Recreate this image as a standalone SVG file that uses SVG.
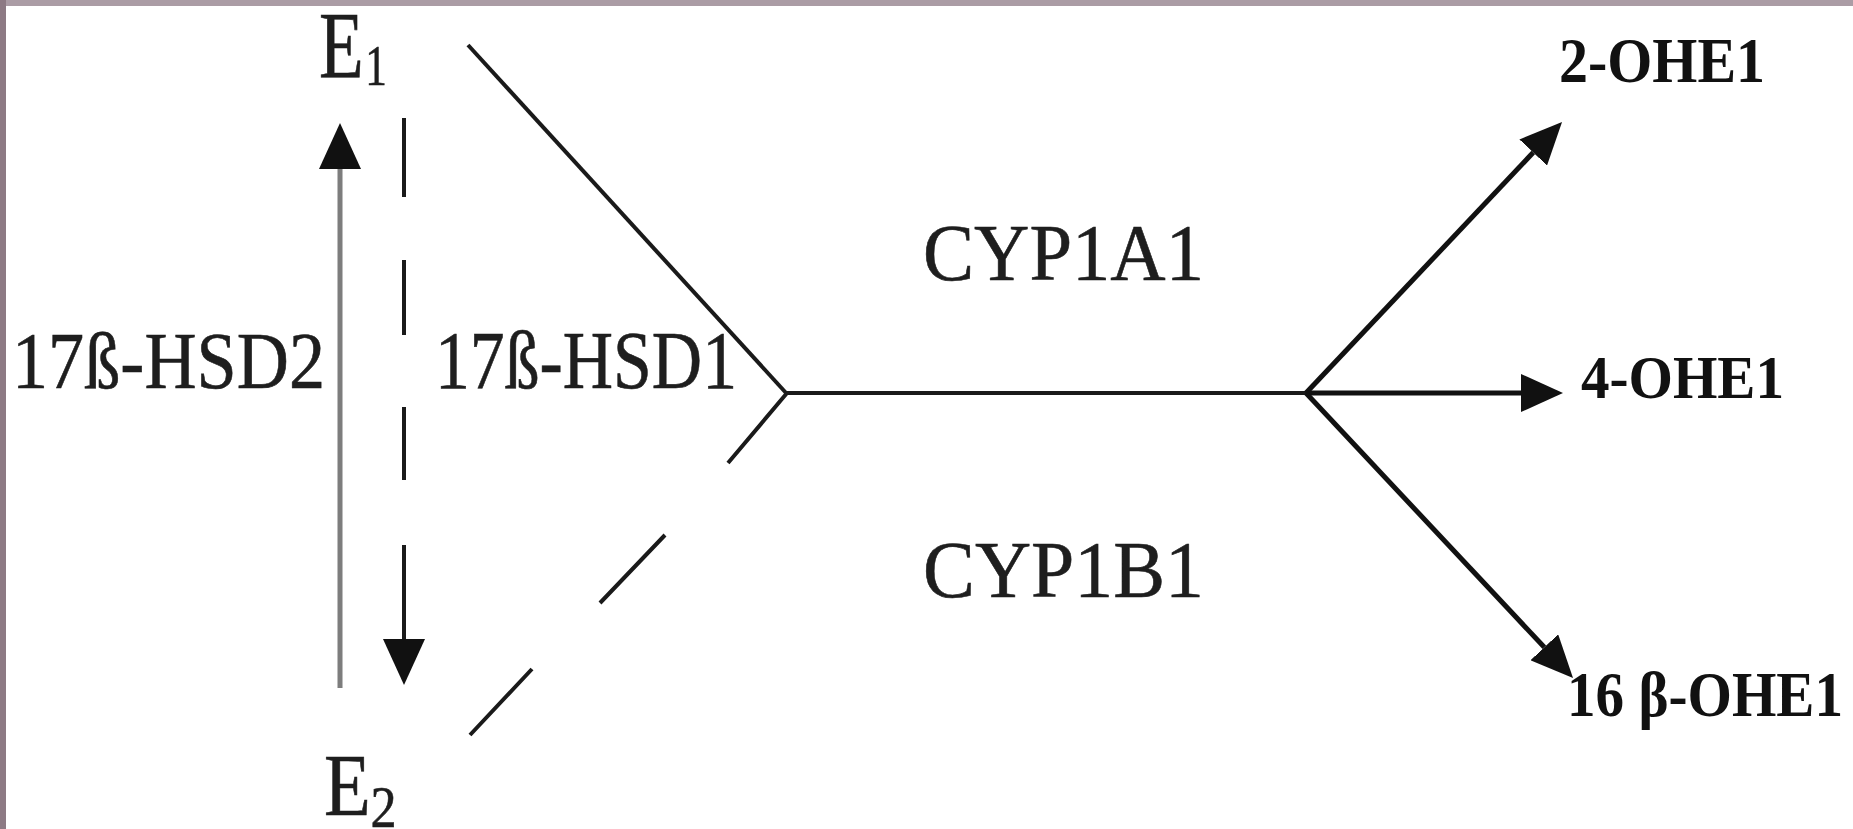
<svg xmlns="http://www.w3.org/2000/svg" width="1853" height="829" viewBox="0 0 1853 829">
  <style>
    .lbl { font-family: "Liberation Serif", "Times New Roman", serif; fill: #1e1e1e; stroke: #1e1e1e; stroke-width: 0.6; }
    .prod { font-family: "Liberation Serif", "Times New Roman", serif; font-weight: bold; fill: #111; }
    .ln { fill: none; stroke: #1a1a1a; stroke-width: 4; }
    .arr { fill: none; stroke: #111; stroke-width: 5; }
  </style>
  <defs>
    <!-- arrowheads: base sits on the line end, tip points along the path -->
    <marker id="headR" markerUnits="userSpaceOnUse" viewBox="0 0 42 38" markerWidth="42" markerHeight="38" refX="0" refY="19" orient="auto">
      <path d="M0,0 L42,19 L0,38 Z" fill="#111"/>
    </marker>
    <marker id="headL" markerUnits="userSpaceOnUse" viewBox="0 0 46 42" markerWidth="46" markerHeight="42" refX="0" refY="21" orient="auto">
      <path d="M0,0 L46,21 L0,42 Z" fill="#111"/>
    </marker>
  </defs>

  <!-- page and frame -->
  <rect x="0" y="0" width="1853" height="829" fill="#ffffff"/>
  <rect x="0" y="0" width="1853" height="6" fill="#ab9ca5"/>
  <rect x="0" y="0" width="6" height="829" fill="#8d7a84"/>

  <g id="connectors">
    <!-- E2 -> E1 (17ß-HSD2) -->
    <path d="M340,688 V169" fill="none" stroke="#7d7d7d" stroke-width="5" marker-end="url(#headL)"/>
    <!-- E1 -> E2 (17ß-HSD1), dashed -->
    <path class="ln" stroke-width="4.5" d="M404,118 V197 M404,260 V335 M404,407 V480 M404,545 V639" marker-end="url(#headL)"/>
    <!-- E1 branch into the CYP axis -->
    <path class="ln" d="M468,45 L787,394"/>
    <!-- E2 branch into the CYP axis, dashed -->
    <path class="ln" d="M787,393 L728,463 M665,535 L600,603 M532,669 L470,735"/>
    <!-- CYP axis -->
    <path class="ln" d="M787,393 H1306"/>
    <!-- hydroxylation products -->
    <path class="arr" d="M1306,393 L1533.2,152.5" marker-end="url(#headR)"/>
    <path class="arr" d="M1306,393 L1521,393" marker-end="url(#headR)"/>
    <path class="arr" d="M1306,393 L1544.3,647.3" marker-end="url(#headR)"/>
  </g>

  <g id="e1">
    <g transform="translate(319,0) scale(0.77,1)">
      <text class="lbl" x="0" y="78" font-size="95">E<tspan x="60" y="85" font-size="56">1</tspan></text>
    </g>
  </g>

  <g id="e2">
    <g transform="translate(324,0) scale(0.87,1)">
      <text class="lbl" x="0" y="815" font-size="88">E<tspan x="53.4" y="827" font-size="60">2</tspan></text>
    </g>
  </g>

  <g id="hsd2">
    <text class="lbl" x="12" y="388" font-size="80" textLength="313" lengthAdjust="spacingAndGlyphs">17ß-HSD2</text>
  </g>

  <g id="hsd1">
    <text class="lbl" x="435" y="388" font-size="82" textLength="302" lengthAdjust="spacingAndGlyphs">17ß-HSD1</text>
  </g>

  <g id="cyp1a1">
    <text class="lbl" x="923" y="280" font-size="80" textLength="281" lengthAdjust="spacingAndGlyphs">CYP1A1</text>
  </g>

  <g id="cyp1b1">
    <text class="lbl" x="923" y="597" font-size="81" textLength="281" lengthAdjust="spacingAndGlyphs">CYP1B1</text>
  </g>

  <g id="ohe2">
    <text class="prod" x="1559" y="82" font-size="63" textLength="206" lengthAdjust="spacingAndGlyphs">2-OHE1</text>
  </g>

  <g id="ohe4">
    <text class="prod" x="1581" y="398" font-size="62" textLength="203" lengthAdjust="spacingAndGlyphs">4-OHE1</text>
  </g>

  <g id="ohe16">
    <text class="prod" x="1567" y="716" font-size="63" textLength="276" lengthAdjust="spacingAndGlyphs">16 β-OHE1</text>
  </g>
</svg>
